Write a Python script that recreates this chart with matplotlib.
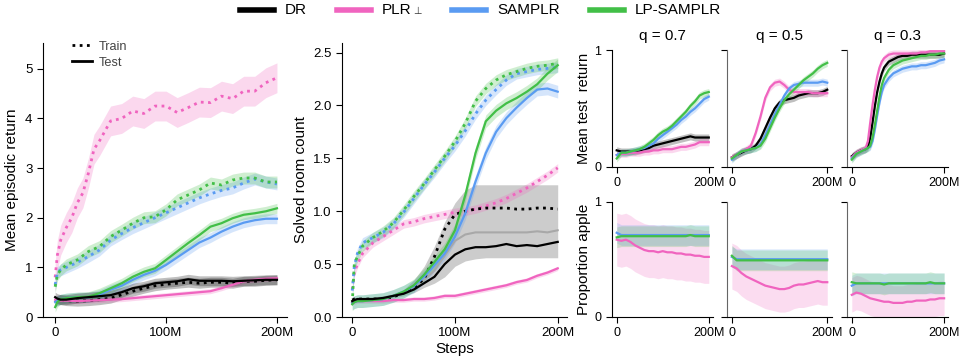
import numpy as np
import matplotlib.pyplot as plt
from matplotlib.lines import Line2D

plt.rcParams['font.family'] = ['Liberation Sans', 'DejaVu Sans']

# ---- data (steps in millions) ----
methods = ['DR', 'PLR', 'SAMPLR', 'LP-SAMPLR']
colors = ['black', '#f064bf', '#5a9bf2', '#42bf47']

steps = [0, 2, 5, 10, 20, 30, 40, 50, 60, 70, 80, 90, 100, 110, 120, 130, 140, 150, 160, 170, 180, 190, 200]
steps_fast = [0, 2, 5, 10, 15, 20, 25, 30, 35, 40, 50, 60, 70, 80, 90, 100, 110, 120, 130, 140, 150, 160, 170, 180, 190, 200]

# mean episodic return
ret_train_dr = [0.30, 0.34, 0.35, 0.33, 0.32, 0.33, 0.35, 0.38, 0.45, 0.52, 0.58, 0.63, 0.66, 0.68, 0.70, 0.68, 0.70, 0.70, 0.68, 0.72, 0.72, 0.74, 0.75]
ret_train_plr = [0.80, 1.25, 1.55, 1.80, 2.00, 2.30, 2.50, 2.90, 3.38, 3.55, 3.95, 4.00, 4.15, 4.10, 4.25, 4.25, 4.12, 4.22, 4.33, 4.32, 4.45, 4.40, 4.55, 4.55, 4.72, 4.82]
ret_train_samplr = [0.65, 0.90, 0.95, 1.00, 1.10, 1.22, 1.35, 1.55, 1.68, 1.80, 1.90, 2.00, 2.10, 2.20, 2.30, 2.40, 2.48, 2.55, 2.60, 2.70, 2.78, 2.72, 2.68]
ret_train_lp = [0.61, 0.85, 0.95, 1.05, 1.15, 1.32, 1.42, 1.62, 1.75, 1.89, 2.00, 2.02, 2.16, 2.36, 2.46, 2.56, 2.70, 2.66, 2.76, 2.80, 2.80, 2.72, 2.72]
ret_test_dr = [0.40, 0.37, 0.35, 0.35, 0.38, 0.40, 0.42, 0.44, 0.50, 0.58, 0.62, 0.68, 0.70, 0.72, 0.76, 0.73, 0.73, 0.73, 0.72, 0.73, 0.74, 0.75, 0.75]
ret_test_plr = [0.35, 0.34, 0.33, 0.33, 0.32, 0.33, 0.34, 0.35, 0.36, 0.38, 0.40, 0.42, 0.44, 0.46, 0.48, 0.50, 0.52, 0.58, 0.65, 0.72, 0.75, 0.77, 0.78]
ret_test_samplr = [0.30, 0.33, 0.36, 0.38, 0.40, 0.40, 0.45, 0.55, 0.63, 0.75, 0.85, 0.93, 1.05, 1.20, 1.35, 1.50, 1.60, 1.72, 1.82, 1.90, 1.95, 1.98, 1.98]
ret_test_lp = [0.20, 0.30, 0.36, 0.38, 0.40, 0.41, 0.48, 0.58, 0.68, 0.81, 0.91, 0.98, 1.15, 1.32, 1.49, 1.65, 1.82, 1.89, 1.99, 2.06, 2.09, 2.13, 2.19]

# solved room count
room_train_dr = [0.16, 0.17, 0.17, 0.17, 0.17, 0.17, 0.19, 0.23, 0.28, 0.36, 0.57, 0.83, 0.97, 1.00, 1.02, 1.03, 1.03, 1.03, 1.02, 1.02, 1.03, 1.03, 1.02]
room_train_plr = [0.26, 0.42, 0.50, 0.60, 0.70, 0.76, 0.82, 0.88, 0.90, 0.93, 0.95, 0.97, 0.99, 1.00, 1.02, 1.05, 1.08, 1.12, 1.17, 1.22, 1.28, 1.34, 1.41]
room_train_samplr = [0.25, 0.48, 0.60, 0.70, 0.75, 0.80, 0.88, 0.99, 1.12, 1.25, 1.37, 1.50, 1.62, 1.76, 1.92, 2.05, 2.15, 2.24, 2.30, 2.32, 2.34, 2.35, 2.36]
room_train_lp = [0.13, 0.50, 0.57, 0.67, 0.75, 0.81, 0.89, 1.01, 1.14, 1.26, 1.39, 1.52, 1.66, 1.83, 2.04, 2.16, 2.24, 2.29, 2.32, 2.35, 2.37, 2.38, 2.40]
room_test_dr = [0.15, 0.16, 0.17, 0.17, 0.17, 0.18, 0.20, 0.22, 0.26, 0.32, 0.38, 0.50, 0.59, 0.64, 0.66, 0.66, 0.67, 0.69, 0.67, 0.68, 0.67, 0.69, 0.71]
room_dr_lo = [0.14, 0.15, 0.16, 0.16, 0.16, 0.17, 0.18, 0.20, 0.23, 0.28, 0.32, 0.38, 0.48, 0.53, 0.55, 0.56, 0.56, 0.56, 0.56, 0.56, 0.56, 0.56, 0.56]
room_dr_hi = [0.17, 0.18, 0.18, 0.18, 0.19, 0.20, 0.22, 0.26, 0.35, 0.48, 0.67, 0.90, 1.08, 1.20, 1.25, 1.25, 1.25, 1.25, 1.25, 1.25, 1.25, 1.25, 1.25]
room_dr_mid = [0.15, 0.16, 0.17, 0.17, 0.17, 0.18, 0.20, 0.23, 0.28, 0.35, 0.44, 0.58, 0.72, 0.78, 0.80, 0.80, 0.80, 0.80, 0.80, 0.80, 0.81, 0.80, 0.82]
room_test_plr = [0.14, 0.14, 0.15, 0.15, 0.15, 0.15, 0.16, 0.16, 0.17, 0.17, 0.18, 0.20, 0.20, 0.22, 0.24, 0.26, 0.28, 0.30, 0.33, 0.35, 0.39, 0.42, 0.46]
room_test_samplr = [0.13, 0.14, 0.15, 0.15, 0.16, 0.17, 0.20, 0.24, 0.29, 0.38, 0.49, 0.60, 0.76, 0.98, 1.28, 1.55, 1.75, 1.88, 1.98, 2.07, 2.15, 2.16, 2.13]
room_test_lp = [0.12, 0.14, 0.15, 0.15, 0.16, 0.17, 0.20, 0.24, 0.30, 0.40, 0.52, 0.64, 0.82, 1.15, 1.55, 1.85, 1.95, 2.02, 2.07, 2.13, 2.20, 2.30, 2.38]

# mean test return per q
steps_q = [0, 10, 20, 30, 40, 50, 60, 70, 80, 90, 100, 110, 120, 130, 140, 150, 160, 170, 180, 190, 200]
steps_q3 = [0, 10, 20, 30, 35, 40, 45, 50, 55, 60, 65, 70, 80, 90, 100, 110, 120, 130, 140, 150, 160, 170, 180, 190, 200]
q_titles = ['q = 0.7', 'q = 0.5', 'q = 0.3']

test_dr_07 = [0.14, 0.13, 0.13, 0.13, 0.13, 0.14, 0.15, 0.16, 0.18, 0.19, 0.20, 0.21, 0.22, 0.23, 0.24, 0.25, 0.26, 0.25, 0.25, 0.25, 0.25]
test_plr_07 = [0.10, 0.11, 0.11, 0.12, 0.12, 0.12, 0.13, 0.13, 0.14, 0.14, 0.15, 0.15, 0.15, 0.16, 0.17, 0.17, 0.18, 0.19, 0.21, 0.21, 0.21]
test_samplr_07 = [0.10, 0.12, 0.12, 0.13, 0.14, 0.15, 0.16, 0.18, 0.20, 0.24, 0.27, 0.30, 0.33, 0.36, 0.40, 0.43, 0.47, 0.50, 0.54, 0.58, 0.60]
test_lp_07 = [0.07, 0.12, 0.12, 0.13, 0.14, 0.15, 0.17, 0.20, 0.23, 0.27, 0.30, 0.32, 0.35, 0.39, 0.43, 0.47, 0.52, 0.56, 0.61, 0.63, 0.64]

test_dr_05 = [0.08, 0.10, 0.12, 0.14, 0.15, 0.18, 0.24, 0.33, 0.42, 0.50, 0.55, 0.57, 0.58, 0.59, 0.61, 0.62, 0.63, 0.63, 0.63, 0.64, 0.66]
test_plr_05 = [0.08, 0.10, 0.13, 0.15, 0.18, 0.29, 0.43, 0.59, 0.68, 0.72, 0.73, 0.70, 0.66, 0.64, 0.64, 0.64, 0.64, 0.63, 0.63, 0.63, 0.63]
test_samplr_05 = [0.06, 0.10, 0.13, 0.14, 0.15, 0.16, 0.19, 0.27, 0.36, 0.45, 0.53, 0.61, 0.67, 0.70, 0.71, 0.72, 0.72, 0.72, 0.72, 0.73, 0.72]
test_lp_05 = [0.07, 0.10, 0.13, 0.14, 0.15, 0.16, 0.18, 0.24, 0.33, 0.42, 0.50, 0.57, 0.62, 0.66, 0.70, 0.74, 0.77, 0.80, 0.84, 0.87, 0.89]

test_dr_03 = [0.09, 0.12, 0.14, 0.15, 0.17, 0.25, 0.38, 0.52, 0.64, 0.73, 0.80, 0.85, 0.90, 0.92, 0.94, 0.95, 0.95, 0.96, 0.96, 0.96, 0.96, 0.96, 0.96, 0.96, 0.97]
test_plr_03 = [0.08, 0.12, 0.14, 0.16, 0.22, 0.38, 0.53, 0.66, 0.77, 0.85, 0.90, 0.93, 0.96, 0.97, 0.97, 0.97, 0.97, 0.97, 0.97, 0.98, 0.98, 0.99, 0.99, 0.99, 0.99]
test_samplr_03 = [0.07, 0.11, 0.13, 0.15, 0.16, 0.17, 0.22, 0.32, 0.44, 0.55, 0.64, 0.70, 0.76, 0.80, 0.82, 0.84, 0.85, 0.86, 0.86, 0.87, 0.87, 0.88, 0.89, 0.91, 0.92]
test_lp_03 = [0.06, 0.11, 0.13, 0.15, 0.16, 0.18, 0.25, 0.36, 0.48, 0.60, 0.70, 0.76, 0.83, 0.87, 0.89, 0.91, 0.92, 0.93, 0.94, 0.95, 0.95, 0.96, 0.96, 0.97, 0.97]

# proportion apple per q
apple_plr_07 = [0.67, 0.66, 0.67, 0.65, 0.62, 0.60, 0.58, 0.57, 0.57, 0.56, 0.57, 0.56, 0.56, 0.55, 0.55, 0.54, 0.54, 0.53, 0.53, 0.52, 0.52]
apple_samplr_07 = [0.73, 0.71, 0.71, 0.71, 0.71, 0.71, 0.71, 0.71, 0.71, 0.71, 0.71, 0.71, 0.71, 0.71, 0.71, 0.71, 0.71, 0.71, 0.71, 0.71, 0.71]
apple_lp_07 = [0.69, 0.70, 0.70, 0.70, 0.70, 0.70, 0.70, 0.70, 0.70, 0.70, 0.70, 0.70, 0.70, 0.70, 0.70, 0.70, 0.71, 0.70, 0.70, 0.70, 0.70]
apple_plr_05 = [0.44, 0.42, 0.38, 0.35, 0.33, 0.31, 0.29, 0.27, 0.26, 0.25, 0.24, 0.24, 0.25, 0.27, 0.28, 0.28, 0.29, 0.30, 0.31, 0.30, 0.30]
apple_samplr_05 = [0.52, 0.50, 0.50, 0.50, 0.50, 0.50, 0.50, 0.50, 0.50, 0.50, 0.50, 0.50, 0.50, 0.50, 0.50, 0.50, 0.50, 0.50, 0.50, 0.50, 0.50]
apple_lp_05 = [0.53, 0.49, 0.49, 0.49, 0.49, 0.49, 0.49, 0.49, 0.49, 0.49, 0.49, 0.49, 0.49, 0.49, 0.49, 0.49, 0.49, 0.49, 0.49, 0.49, 0.49]
apple_plr_03 = [0.19, 0.21, 0.20, 0.18, 0.16, 0.15, 0.14, 0.13, 0.13, 0.12, 0.12, 0.12, 0.13, 0.13, 0.14, 0.14, 0.14, 0.15, 0.15, 0.16, 0.16]
apple_samplr_03 = [0.27, 0.29, 0.29, 0.29, 0.29, 0.29, 0.29, 0.29, 0.29, 0.29, 0.29, 0.29, 0.29, 0.29, 0.29, 0.29, 0.29, 0.29, 0.29, 0.29, 0.29]
apple_lp_03 = [0.30, 0.29, 0.29, 0.29, 0.29, 0.29, 0.29, 0.28, 0.29, 0.29, 0.29, 0.29, 0.29, 0.29, 0.29, 0.29, 0.29, 0.30, 0.29, 0.29, 0.29]


def draw(ax, x, y, band, color, ls='-', lw=1.6, alpha=0.25):
    x = np.asarray(x, dtype=float)
    y = np.asarray(y, dtype=float)
    ax.fill_between(x, y - band, y + band, color=color, alpha=alpha, lw=0)
    ax.plot(x, y, color=color, ls=ls, lw=lw)


def style(ax, size=9.5):
    ax.spines['top'].set_visible(False)
    ax.spines['right'].set_visible(False)
    ax.tick_params(direction='out', length=4, labelsize=size)
    ax.set_xticks([0, 100, 200])
    ax.set_xticklabels(['0', '100M', '200M'])


dot = (0, (1, 1.6))
fig = plt.figure(figsize=(9.59, 3.6), dpi=100)

# panel 1: mean episodic return
ax1 = fig.add_axes([0.0448, 0.1194, 0.2544, 0.7611])
draw(ax1, steps, ret_train_dr, 0.1, colors[0], ls=dot, lw=2)
draw(ax1, steps_fast, ret_train_plr, 0.3, colors[1], ls=dot, lw=2)
draw(ax1, steps, ret_train_samplr, 0.12, colors[2], ls=dot, lw=2)
draw(ax1, steps, ret_train_lp, 0.12, colors[3], ls=dot, lw=2)
draw(ax1, steps, ret_test_plr, 0.05, colors[1])
draw(ax1, steps, ret_test_samplr, 0.1, colors[2])
draw(ax1, steps, ret_test_lp, 0.1, colors[3])
draw(ax1, steps, ret_test_dr, 0.1, colors[0])
style(ax1)
ax1.set_xlim(-11, 209)
ax1.set_ylim(0, 5.52)
ax1.set_yticks([0, 1, 2, 3, 4, 5])
ax1.set_ylabel('Mean episodic return', fontsize=11)
ax1.legend([Line2D([], [], color='black', ls=dot, lw=2), Line2D([], [], color='black', lw=2)],
           ['Train', 'Test'], loc='upper left', bbox_to_anchor=(0.07, 1.05), frameon=False,
           fontsize=9.2, handlelength=1.6, handletextpad=0.5, labelspacing=0.3, labelcolor='#444444')

# panel 2: solved room count
ax2 = fig.add_axes([0.3566, 0.1194, 0.2346, 0.7611])
ax2.fill_between(steps, room_dr_lo, room_dr_hi, color='gray', alpha=0.4, lw=0)
ax2.plot(steps, room_dr_mid, color='#a8a8a8', lw=1.5)
draw(ax2, steps, room_train_plr, 0.04, colors[1], ls=dot, lw=2)
draw(ax2, steps, room_train_samplr, 0.05, colors[2], ls=dot, lw=2)
draw(ax2, steps, room_train_lp, 0.05, colors[3], ls=dot, lw=2)
ax2.plot(steps, room_train_dr, color='black', ls=dot, lw=2)
draw(ax2, steps, room_test_plr, 0.02, colors[1])
draw(ax2, steps, room_test_samplr, 0.06, colors[2])
draw(ax2, steps, room_test_lp, 0.06, colors[3])
ax2.plot(steps, room_test_dr, color='black', lw=1.6)
style(ax2)
ax2.set_xlim(-10, 209)
ax2.set_ylim(0, 2.59)
ax2.set_yticks([0, 0.5, 1.0, 1.5, 2.0, 2.5])
ax2.set_yticklabels(['0.0', '0.5', '1.0', '1.5', '2.0', '2.5'])
ax2.set_ylabel('Solved room count', fontsize=11)
ax2.set_xlabel('Steps', fontsize=11, labelpad=2)

# small panels
lefts = [0.6378, 0.7577, 0.8829]
widths = [0.1056, 0.1094, 0.1059]
test_sets = [
    (steps_q, [test_dr_07, test_plr_07, test_samplr_07, test_lp_07]),
    (steps_q, [test_dr_05, test_plr_05, test_samplr_05, test_lp_05]),
    (steps_q3, [test_dr_03, test_plr_03, test_samplr_03, test_lp_03]),
]
apple_sets = [
    ([apple_plr_07, apple_samplr_07, apple_lp_07], 0.23),
    ([apple_plr_05, apple_samplr_05, apple_lp_05], 0.2),
    ([apple_plr_03, apple_samplr_03, apple_lp_03], 0.15),
]

for i in range(3):
    axt = fig.add_axes([lefts[i], 0.537, widths[i], 0.324])
    xs, series = test_sets[i]
    for j, ys in enumerate(series):
        draw(axt, xs, ys, 0.03, colors[j])
    axt.set_title(q_titles[i], fontsize=11, pad=7)

    axb = fig.add_axes([lefts[i], 0.1203, widths[i], 0.3194])
    aps, pband = apple_sets[i]
    draw(axb, steps_q, aps[0], pband, colors[1], alpha=0.22)
    draw(axb, steps_q, aps[1], 0.09, colors[2], alpha=0.22)
    draw(axb, steps_q, aps[2], 0.09, colors[3], alpha=0.22)

    for ax in (axt, axb):
        style(ax, size=9)
        ax.set_xticks([0, 200])
        ax.set_xticklabels(['0', '200M'])
        ax.set_xlim(-11, 209)
        ax.set_ylim(0, 1)
        ax.set_yticks([0, 1])
        if i == 0:
            ax.set_yticklabels(['0', '1'])
        else:
            ax.set_yticklabels([])
            ax.spines['left'].set_color('#666666')
    if i == 0:
        axt.set_ylabel('Mean test  return', fontsize=10.5, labelpad=2)
        axb.set_ylabel('Proportion apple', fontsize=11, labelpad=2)

# top legend, laid out by hand in figure pixels
W, H = fig.bbox.width, fig.bbox.height
leg_x = [240, 337, 452, 590]
leg_y = 1 - 10 / 360
for x0, name, c in zip(leg_x, methods, colors):
    fig.add_artist(Line2D([x0 / W, (x0 + 34) / W], [leg_y, leg_y], color=c, lw=4,
                          transform=fig.transFigure))
    t = fig.text((x0 + 45) / W, leg_y, name, fontsize=11, va='center', ha='left')
    if name == 'PLR':
        plr_text = t

# small perpendicular sign after "PLR", sitting on the baseline
fig.canvas.draw()
rend = fig.canvas.get_renderer()
bb = plr_text.get_window_extent(rend)
fig.text((bb.x1 + 1.5) / W, (bb.y0 + 3.5) / H, '\u22a5',
         fontsize=7, color='#333333', va='baseline', ha='left', family='DejaVu Sans')

fig.savefig('out.png', dpi=100)
